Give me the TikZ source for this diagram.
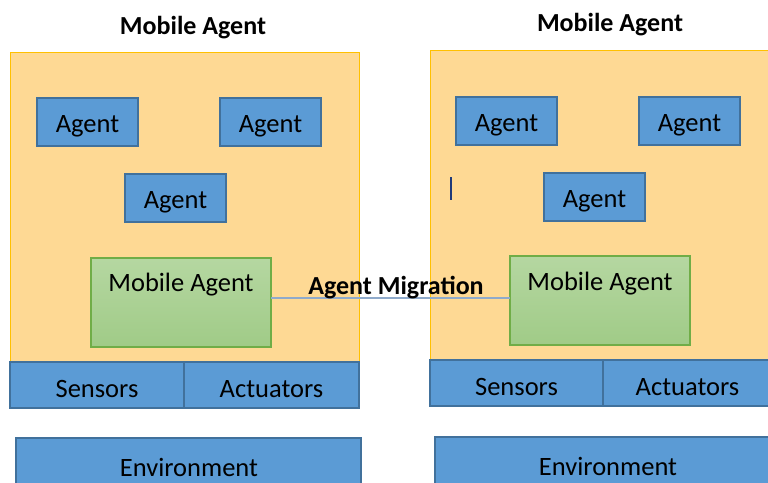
\documentclass[tikz,border=0pt]{standalone}
\usepackage{fontspec}
\setmainfont{Carlito}
\definecolor{panelfill}{HTML}{FED994}
\definecolor{paneldraw}{HTML}{FFC000}
\definecolor{bluefill}{HTML}{5B9BD5}
\definecolor{bluedraw}{HTML}{41719C}
\definecolor{greentop}{HTML}{B5D7A1}
\definecolor{greenbot}{HTML}{A0CB87}
\definecolor{greendraw}{HTML}{70AD47}
\definecolor{linkcol}{HTML}{8FAACB}
\definecolor{cursorcol}{HTML}{1F3A7A}
\begin{document}
\begin{tikzpicture}[x=1pt,y=-1pt,
  panel/.style={draw=paneldraw,fill=panelfill,line width=1pt},
  bluebox/.style={draw=bluedraw,fill=bluefill,line width=1.2pt},
  greenbox/.style={draw=greendraw,top color=greentop,bottom color=greenbot,line width=1.2pt},
  lbl/.style={font=\fontsize{26.5}{30}\selectfont,text=black,yshift=-4pt},
  title/.style={font=\bfseries\fontsize{26}{30}\selectfont,text=black},
  link/.style={draw=linkcol,line width=1.3pt}]
\useasboundingbox (0,0) rectangle (768,482);
% left panel
\draw[panel] (10,52) rectangle (359,362);
\node[title] (t1) at (193,28) {Mobile Agent};
\draw[bluebox] (37,98) rectangle (138,146) node[midway,lbl] (a1) {Agent};
\draw[bluebox] (220,98) rectangle (321,146) node[midway,lbl] (a2) {Agent};
\draw[bluebox] (125,174) rectangle (226,222) node[midway,lbl] (a3) {Agent};
\draw[greenbox] (91,258) rectangle (271,347);
\node[lbl] (m1) at (181,281) {Mobile Agent};
\coordinate (m1e) at (271,298);
\draw[bluebox] (10,362) rectangle (184,408) node[midway,lbl] (s1) {Sensors};
\draw[bluebox] (184,362) rectangle (359,408) node[midway,lbl] (c1) {Actuators};
\draw[bluebox] (16,438) rectangle (361,490);
\node[lbl] (e1) at (189,463) {Environment};
% right panel
\draw[panel] (430,50) rectangle (772,360);
\node[title] (t2) at (610,25) {Mobile Agent};
\draw[bluebox] (456,97) rectangle (557,145) node[midway,lbl] (b1) {Agent};
\draw[bluebox] (639,97) rectangle (740,145) node[midway,lbl] (b2) {Agent};
\draw[bluebox] (544,173) rectangle (645,221) node[midway,lbl] (b3) {Agent};
\draw[cursorcol,line width=1.5pt] (451,177) -- (451,200);
\draw[greenbox] (510,256) rectangle (690,345);
\node[lbl] (m2) at (600,280) {Mobile Agent};
\coordinate (m2w) at (510,298);
\draw[bluebox] (430,360) rectangle (603,406) node[midway,lbl] (s2) {Sensors};
\draw[bluebox] (603,360) rectangle (772,406) node[midway,lbl] (c2) {Actuators};
\draw[bluebox] (435,437) rectangle (772,490);
\node[lbl] (e2) at (608,462) {Environment};
% migration link
\draw[link] (m1e) -- (m2w);
\node[title] (mig) at (396,288) {Agent Migration};
\end{tikzpicture}
\end{document}
